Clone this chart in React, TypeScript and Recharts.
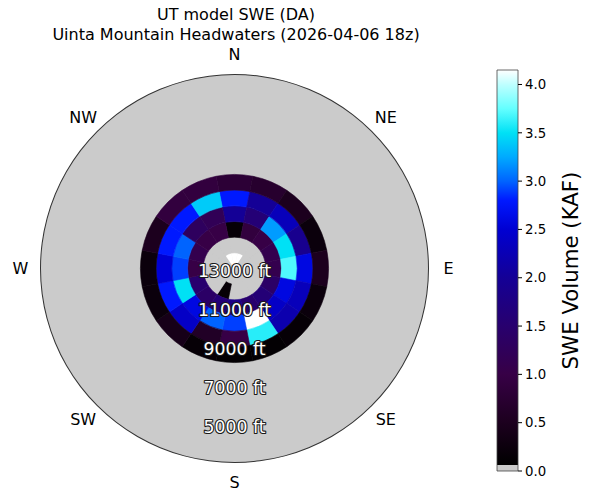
import React from 'react';
import { PieChart, Pie, Cell, PolarRadiusAxis, BarChart, Bar, XAxis, YAxis, Label } from 'recharts';

// ---------------- data ----------------
const TITLE_1 = 'UT model SWE (DA)';
const TITLE_2 = 'Uinta Mountain Headwaters (2026-04-06 18z)';
const DIRECTIONS = ['N', 'NE', 'E', 'SE', 'S', 'SW', 'W', 'NW'];
const SECTORS = ['N', 'NNE', 'NE', 'ENE', 'E', 'ESE', 'SE', 'SSE', 'S', 'SSW', 'SW', 'WSW', 'W', 'WNW', 'NW', 'NNW'];
const ELEV_TOP = 13000;
const ELEV_BOTTOM = 3100;
const BAND_EDGES = [13000, 12200, 11400, 10600, 9800, 9000, 8200];
// SWE volume (KAF) per band, sectors in SECTORS order
const SWE_12200_13000 = [4.2, 4.2, 0, 0, 0, 0, 0, 0, 0, 0, 0, 0, 0, 0, 0, 4.2];
const SWE_11400_12200 = [0, 0, 0, 0, 0, 0, 0, 0, 0, 0.1, 0, 0, 0, 0, 0, 0];
const SWE_10600_11400 = [0.1, 0.9, 1.0, 1.1, 1.1, 1.4, 1.6, 1.5, 1.8, 1.6, 1.4, 1.5, 1.0, 1.1, 1.0, 1.0];
const SWE_9800_10600 = [2.0, 1.6, 3.2, 3.5, 3.7, 2.6, 2.4, 4.2, 2.9, 3.0, 2.6, 3.5, 2.9, 3.0, 1.3, 1.2];
const SWE_9000_9800 = [2.8, 2.0, 2.3, 1.9, 2.6, 2.3, 2.2, 3.6, 1.0, 0.6, 2.4, 2.8, 2.5, 2.8, 2.8, 3.4];
const SWE_8200_9000 = [0.8, 0.7, 0.5, 0.2, 0.5, 0.2, 0.1, 0.05, 0.05, 0.1, 0.4, 0.2, 0.2, 0.5, 0.9, 0.9];
const BAND_SWE = [SWE_12200_13000, SWE_11400_12200, SWE_10600_11400, SWE_9800_10600, SWE_9000_9800, SWE_8200_9000];
const RADIAL_TICKS = [13000, 11000, 9000, 7000, 5000];
const CBAR_MAX = 4.15;
const CBAR_TICKS = [0, 0.5, 1.0, 1.5, 2.0, 2.5, 3.0, 3.5, 4.0];
const CBAR_LABEL = 'SWE Volume (KAF)';

// ---------------- styles ----------------
const W = 589;
const H = 491;
const CX = 234.5;
const CY = 268.5;
const R_OUT = 194;
const BG_GRAY = '#cbcbcb';
const FONT = '"DejaVu Sans", Verdana, sans-serif';
const CMAP: [number, number[]][] = [
  [0.0, [0, 0, 0]],
  [0.5, [28, 0, 30]],
  [1.0, [55, 0, 70]],
  [1.5, [40, 0, 110]],
  [2.0, [20, 0, 150]],
  [2.5, [0, 0, 210]],
  [2.8, [0, 25, 255]],
  [3.0, [0, 100, 255]],
  [3.25, [0, 170, 255]],
  [3.5, [0, 225, 245]],
  [3.75, [100, 255, 255]],
  [4.0, [190, 255, 255]],
  [4.15, [255, 255, 255]],
];

function rgb(c: number[]) {
  return `rgb(${Math.round(c[0])},${Math.round(c[1])},${Math.round(c[2])})`;
}
function sweColor(v: number) {
  if (v <= 0) return BG_GRAY;
  if (v >= CMAP[CMAP.length - 1][0]) return rgb(CMAP[CMAP.length - 1][1]);
  for (let i = 0; i < CMAP.length - 1; i++) {
    const [a, ca] = CMAP[i];
    const [b, cb] = CMAP[i + 1];
    if (v >= a && v <= b) {
      const t = (v - a) / (b - a);
      return rgb(ca.map((x, k) => x + (cb[k] - x) * t));
    }
  }
  return rgb(CMAP[0][1]);
}
const rOf = (elev: number) => ((ELEV_TOP - elev) / (ELEV_TOP - ELEV_BOTTOM)) * R_OUT;

const rings = BAND_SWE.map((vals, i) => ({
  top: BAND_EDGES[i],
  bottom: BAND_EDGES[i + 1],
  data: vals.map((swe, j) => ({ name: SECTORS[j], swe, w: 1 })),
}));
const dirData = DIRECTIONS.map((name) => ({ name, w: 1 }));
const oneData = [{ name: 'all', w: 1 }];

const RAD = Math.PI / 180;
const renderDir = (p: any) => {
  const r = p.outerRadius + 20;
  const x = p.cx + r * Math.cos(-p.midAngle * RAD);
  const y = p.cy + r * Math.sin(-p.midAngle * RAD);
  return (
    <text key={p.name} x={x} y={y} textAnchor="middle" dominantBaseline="central" fontSize={16} fill="#000" fontFamily={FONT}>
      {p.payload.name}
    </text>
  );
};

const RadialTick = (p: any) => (
  <text
    x={p.x}
    y={p.y + 2}
    textAnchor="middle"
    dominantBaseline="central"
    fontSize={17.3}
    fill="#ffffff"
    stroke="#1a1a1a"
    strokeWidth={2.2}
    strokeLinejoin="round"
    paintOrder="stroke"
    fontFamily={FONT}
  >
    {`${ELEV_TOP - p.payload.value} ft`}
  </text>
);

const cbarData = [{ name: 'swe', v: CBAR_MAX }];

const CbarLabel = (p: any) => {
  const vb = p.viewBox;
  const x = vb.x + 52;
  const y = vb.y + vb.height / 2;
  return (
    <text x={x} y={y} transform={`rotate(-90 ${x} ${y})`} textAnchor="middle" dominantBaseline="central" fontSize={21.3} fill="#000" fontFamily={FONT}>
      {CBAR_LABEL}
    </text>
  );
};

export default function App() {
  return (
    <div style={{ position: 'absolute', left: 0, top: 0, width: W, height: H, background: '#fff', fontFamily: FONT, overflow: 'hidden' }}>
      <div style={{ position: 'absolute', left: 0, top: 5, width: 472, textAlign: 'center', fontSize: 16, lineHeight: '20px', color: '#000' }}>
        <div>{TITLE_1}</div>
        <div>{TITLE_2}</div>
      </div>
      <div style={{ position: 'absolute', left: 0, top: 0 }}>
        <PieChart width={W} height={H} cx={CX} cy={CY} innerRadius={0} outerRadius={R_OUT} margin={{ top: 0, right: 0, bottom: 0, left: 0 }}>
          <Pie data={oneData} dataKey="w" cx={CX} cy={CY} innerRadius={0} outerRadius={R_OUT} startAngle={90} endAngle={-270} fill={BG_GRAY} stroke="none" isAnimationActive={false} />
          <Pie data={oneData} dataKey="w" cx={CX} cy={CY} innerRadius={R_OUT - 0.5} outerRadius={R_OUT + 0.5} startAngle={90} endAngle={-270} fill="#333" stroke="none" isAnimationActive={false} />
          {rings.map((ring, i) => (
            <Pie
              key={`ring${i}`}
              data={ring.data}
              dataKey="w"
              cx={CX}
              cy={CY}
              innerRadius={rOf(ring.top)}
              outerRadius={rOf(ring.bottom)}
              startAngle={101.25}
              endAngle={-258.75}
              isAnimationActive={false}
            >
              {ring.data.map((d, j) => (
                <Cell key={j} fill={sweColor(d.swe)} stroke={sweColor(d.swe)} strokeWidth={0.6} />
              ))}
            </Pie>
          ))}
          <Pie
            data={dirData}
            dataKey="w"
            cx={CX}
            cy={CY}
            innerRadius={R_OUT}
            outerRadius={R_OUT}
            startAngle={112.5}
            endAngle={-247.5}
            fill="none"
            stroke="none"
            label={renderDir}
            labelLine={false}
            isAnimationActive={false}
          />
          <PolarRadiusAxis
            type="number"
            angle={-90}
            domain={[0, ELEV_TOP - ELEV_BOTTOM]}
            ticks={RADIAL_TICKS.map((e) => ELEV_TOP - e)}
            allowDataOverflow
            axisLine={false}
            tick={<RadialTick />}
          />
        </PieChart>
      </div>
      <div style={{ position: 'absolute', left: 0, top: 0 }}>
        <BarChart width={W} height={H} data={cbarData} margin={{ top: 70, bottom: 20, left: 497, right: 0 }} barCategoryGap={0}>
          <defs>
            <linearGradient id="cbarGrad" x1="0" y1="1" x2="0" y2="0">
              <stop offset="0" stopColor={BG_GRAY} />
              <stop offset="0.015" stopColor={BG_GRAY} />
              {CMAP.map(([v, c], i) => (
                <stop key={i} offset={Math.max(0.015, v / CBAR_MAX)} stopColor={rgb(c)} />
              ))}
            </linearGradient>
          </defs>
          <XAxis dataKey="name" hide />
          <YAxis
            orientation="right"
            width={71}
            type="number"
            domain={[0, CBAR_MAX]}
            ticks={CBAR_TICKS}
            tickFormatter={(v: number) => v.toFixed(1)}
            axisLine={false}
            tickLine={{ stroke: '#000' }}
            tickSize={4}
            tickMargin={3}
            tick={{ fontSize: 13.3, fill: '#000', fontFamily: FONT }}
            interval={0}
          >
            <Label content={<CbarLabel />} />
          </YAxis>
          <Bar dataKey="v" fill="url(#cbarGrad)" stroke="#444" strokeWidth={0.8} isAnimationActive={false} />
        </BarChart>
      </div>
    </div>
  );
}
